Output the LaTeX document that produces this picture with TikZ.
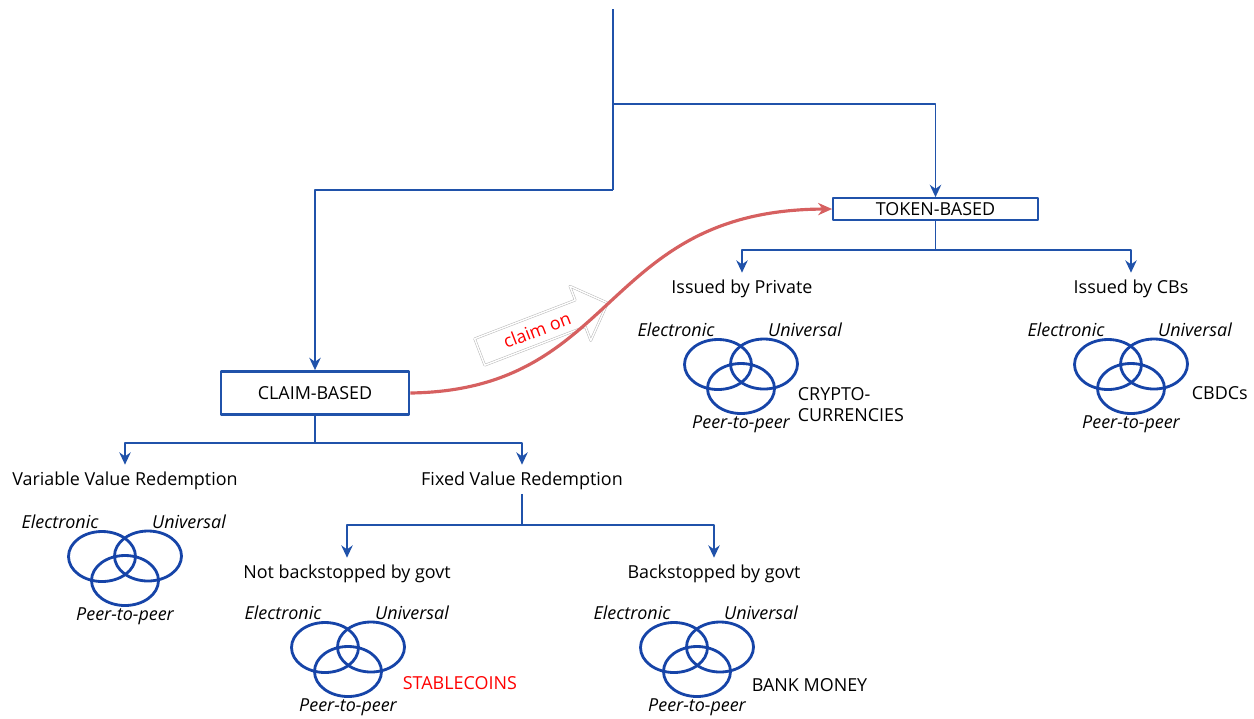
\documentclass[tikz,border=0pt]{standalone}
\usepackage{fontspec}
\setmainfont{Open Sans}
\usetikzlibrary{arrows.meta,shapes.arrows}
\definecolor{treeblue}{RGB}{32,82,170}
\definecolor{vennblue}{RGB}{22,68,168}
\definecolor{claimred}{RGB}{214,96,96}
\begin{document}
\begin{tikzpicture}[x=0.02cm, y=-0.02cm, font=\fontsize{10.2}{12}\selectfont, line join=round, >={Stealth[length=7pt,width=6.5pt]},
	link/.style={draw=treeblue, line width=1.1pt},
	kind/.style={draw=treeblue, fill=white, inner sep=0pt},
	leaf/.style={inner sep=2pt},
	prop/.style={inner sep=1pt, font=\fontsize{10.2}{12}\selectfont\itshape},
	ring/.style={draw=vennblue, line width=1.6pt}]
				
				\useasboundingbox (0,0) rectangle (1254,718);
				
				\path 
				(613,9) coordinate (top)
				(613,104) coordinate (fork)
				(613,190) coordinate (bend)
				(522,525) coordinate (ffork)
				;
				
				% boxes
				\node[kind, line width=1.6pt, minimum width=3.76cm, minimum height=0.86cm] (claim) at (315,393) {CLAIM-BASED};
				\node[kind, line width=1pt, minimum width=4.1cm, minimum height=0.44cm] (token) at (935.5,209) {TOKEN-BASED};
				
				% branches
				\node[leaf] (var) at (125,481) {Variable Value Redemption};
				\node[leaf] (fixed) at (522,481) {Fixed Value Redemption};
				\node[leaf] (notb) at (347,574) {Not backstopped by govt};
				\node[leaf] (back) at (714,574) {Backstopped by govt};
				\node[leaf] (priv) at (742,289) {Issued by Private};
				\node[leaf] (cbs) at (1131,289) {Issued by CBs};
				
				\draw[link] (top)--(bend);
				\draw[link,->] (bend) -| (claim.north);
				\draw[link,->] (fork) -| (token.north);
				\draw[link] (claim.south)--++(0,27) coordinate (cfork);
				\draw[link,->] (cfork) -| ([yshift=2pt]var.north);
				\draw[link,->] (cfork) -| ([yshift=2pt]fixed.north);
				\draw[link] (fixed.south)--(ffork);
				\draw[link,->] (ffork) -| ([yshift=2pt]notb.north);
				\draw[link,->] (ffork) -| ([yshift=2pt]back.north);
				\draw[link] (token.south)--++(0,29) coordinate (tfork);
				\draw[link,->] (tfork) -| ([yshift=2pt]priv.north);
				\draw[link,->] (tfork) -| ([yshift=2pt]cbs.north);
				
				% venns
				\foreach \n/\x/\y in {v/125/564,n/348/655,b/697/655,p/741/372,c/1131/372}{
					\begin{scope}[shift={(\x,\y)}]
						\draw[ring] (-23,-7.5) ellipse [x radius=33.5, y radius=25];
						\draw[ring] (23,-8) ellipse [x radius=33.5, y radius=25];
						\draw[ring] (0,16.5) ellipse [x radius=33.5, y radius=25];
						\node[prop] (\n-elec) at (-65,-42) {Electronic};
						\node[prop] (\n-univ) at (64,-42) {Universal};
						\node[prop] (\n-peer) at (0,52) {Peer-to-peer};
					\end{scope}
				}
				
				\node[leaf, anchor=west, text=red] (stable) at (399,683) {STABLECOINS};
				\node[leaf, anchor=west] (bank) at (748,685) {BANK MONEY};
				\node[leaf, anchor=west, align=left] (crypto) at (794,405) {CRYPTO-\\CURRENCIES};
				\node[leaf, anchor=west] (cbdc) at (1188,393) {CBDCs};
				
				% claim on
				\node[single arrow, draw=gray!55, double, double distance=0.8pt, line width=0.3pt, text=red, rotate=21, minimum height=2.74cm, single arrow head extend=0.3cm, inner xsep=3pt, inner ysep=4pt] (hint) at (537,330) {claim on};
				\draw[claimred, line width=1.8pt, -{Stealth[length=8pt,width=7pt]}] (claim.east) .. controls (620,390) and (600,210) .. (token.west);
			\end{tikzpicture}
\end{document}
